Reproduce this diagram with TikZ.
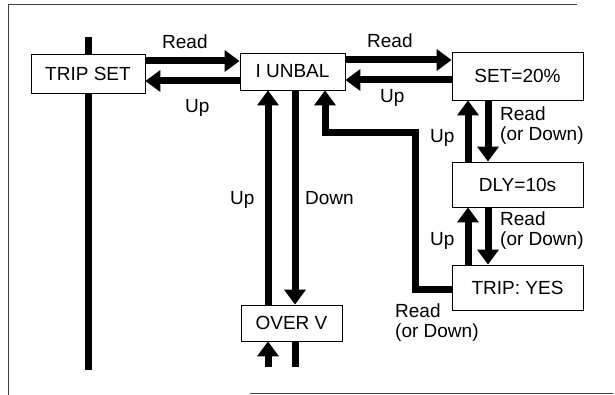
\documentclass[tikz,border=0pt]{standalone}
\usepackage{fontspec}
\setmainfont{Liberation Sans}
\usetikzlibrary{arrows.meta}

\begin{document}
\begin{tikzpicture}[x=1pt, y=-1pt,
        box/.style={draw, line width=0.8pt, fill=white, rectangle, inner sep=0pt, font=\fontsize{19}{20}\selectfont},
        arrow/.style={-{Triangle[length=15pt, width=21pt]}, line width=7pt},
        bar/.style={line width=7pt},
        lbl/.style={font=\fontsize{19}{20}\selectfont, inner sep=0pt, anchor=base west, align=left},
        frame/.style={draw=black!75, line width=1pt}
      ]
        \useasboundingbox (0,0) rectangle (615,395);
        \draw [frame] (8,395) -- (8,5) -- (577,5);
        \draw [frame] (250,393) -- (613,393);

        \node (tripset) [box, minimum width=114pt, minimum height=39pt] at (88,73.5) {TRIP SET};
        \node (iunbal) [box, minimum width=105pt, minimum height=37pt] at (292.5,71.5) {I UNBAL};
        \node (set) [box, minimum width=131pt, minimum height=48pt] at (517.5,76) {SET=20\%};
        \node (dly) [box, minimum width=131pt, minimum height=45pt] at (517.5,184.5) {DLY=10s};
        \node (trip) [box, minimum width=131pt, minimum height=45pt] at (517.5,287.5) {TRIP: YES};
        \node (overv) [box, minimum width=101pt, minimum height=36pt] at (291.5,323) {OVER V};

        \coordinate (tstop) at (88,37);
        \coordinate (tsbot) at (88,370);
        \coordinate (vin) at (268,367);
        \coordinate (vout) at (295,367);

        \draw [bar] (tstop) -- (tripset.north);
        \draw [bar] (tripset.south) -- (tsbot);

        \draw [arrow] (tripset.east |- 0,61) -- (iunbal.west |- 0,61);
        \draw [arrow] (iunbal.west |- 0,81) -- (tripset.east |- 0,81);
        \draw [arrow] (iunbal.east |- 0,60) -- (set.west |- 0,60);
        \draw [arrow] (set.west |- 0,80) -- (iunbal.east |- 0,80);
        \draw [arrow] (set.south -| 488,0) -- (dly.north -| 488,0);
        \draw [arrow] (dly.north -| 468,0) -- (set.south -| 468,0);
        \draw [arrow] (dly.south -| 488,0) -- (trip.north -| 488,0);
        \draw [arrow] (trip.north -| 468,0) -- (dly.south -| 468,0);
        \draw [arrow] (trip.west |- 0,289) -| (415,133) -| (iunbal.south -| 325,0);
        \draw [arrow] (overv.north -| 268,0) -- (iunbal.south -| 268,0);
        \draw [arrow] (iunbal.south -| 295,0) -- (overv.north -| 295,0);
        \draw [arrow] (vin) -- (overv.south -| vin);
        \draw [bar] (overv.south -| vout) -- (vout);

        \node (l1) [lbl] at (162,49) {Read};
        \node (l2) [lbl] at (185,113) {Up};
        \node (l3) [lbl] at (367,48) {Read};
        \node (l4) [lbl] at (380,103) {Up};
        \node (l5) [lbl] at (500,141) {Read\\(or Down)};
        \node (l6) [lbl] at (430,143) {Up};
        \node (l7) [lbl] at (500,245) {Read\\(or Down)};
        \node (l8) [lbl] at (430,245) {Up};
        \node (l9) [lbl] at (395,337) {Read\\(or Down)};
        \node (l10) [lbl] at (230,205) {Up};
        \node (l11) [lbl] at (305,205) {Down};
      \end{tikzpicture}
\end{document}
